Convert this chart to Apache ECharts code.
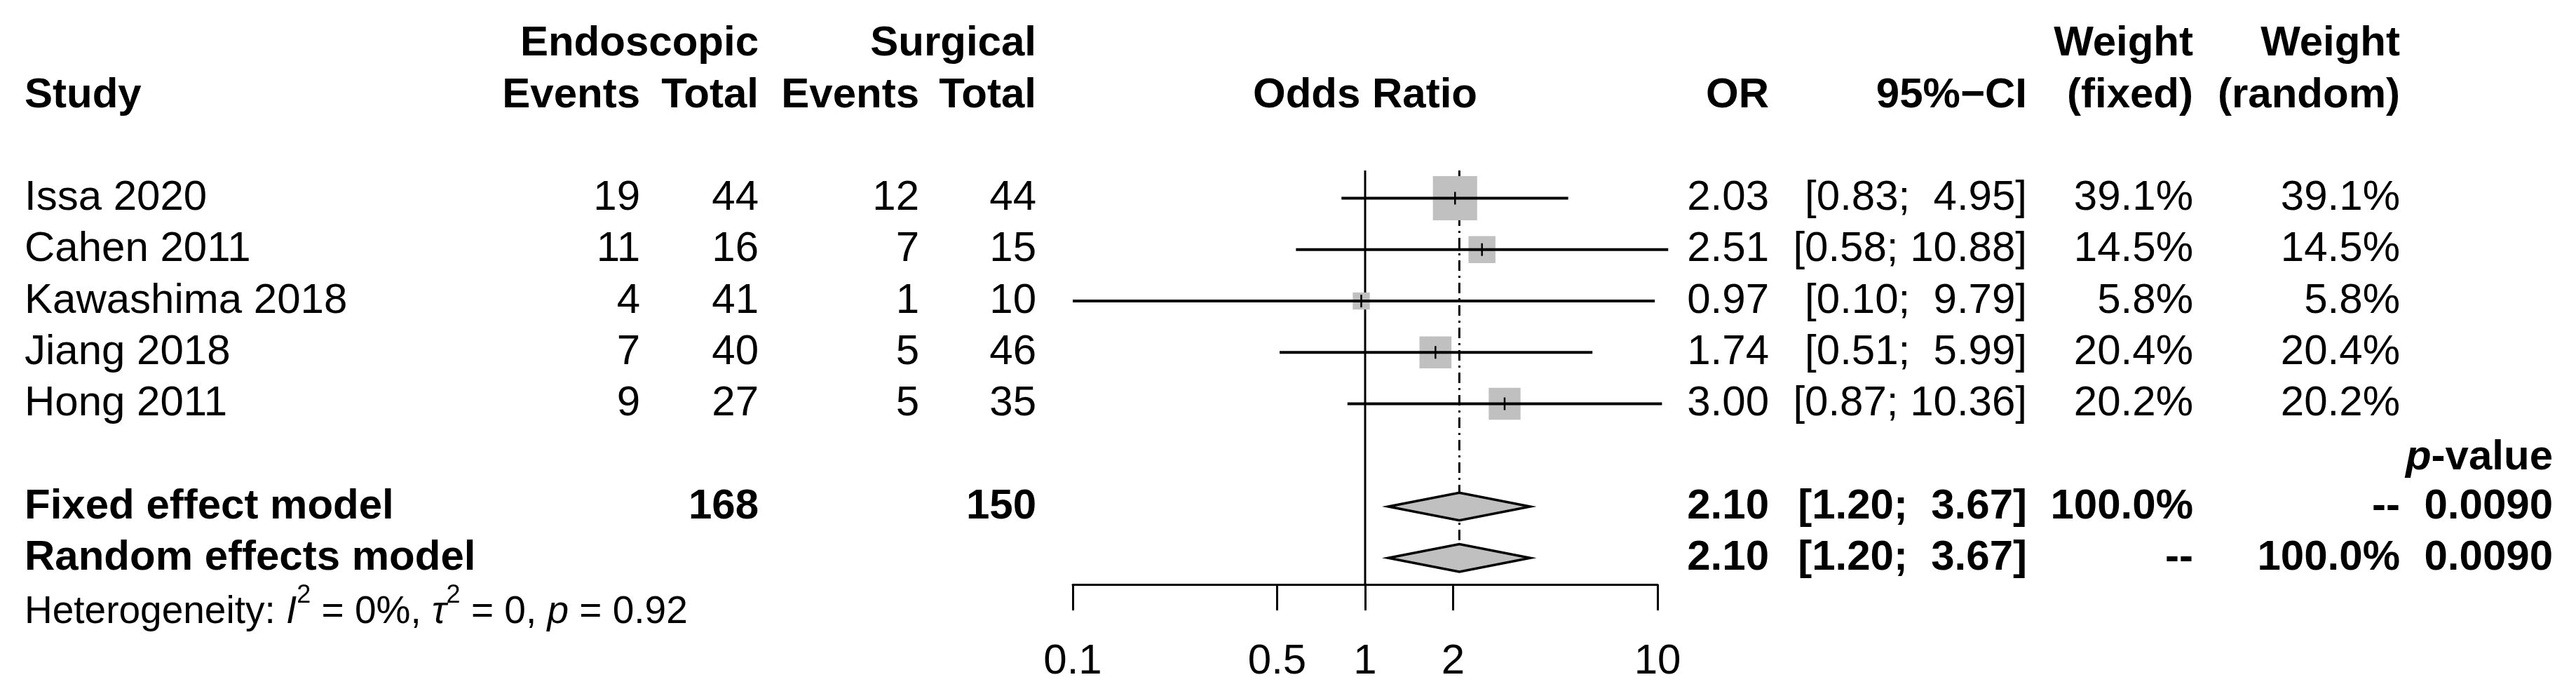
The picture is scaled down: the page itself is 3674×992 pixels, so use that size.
<!DOCTYPE html>
<html><head><meta charset="utf-8">
<script src="https://cdn.jsdelivr.net/npm/echarts@6/dist/echarts.min.js"></script>
<style>html,body{margin:0;padding:0;background:#fff}#c{width:3674px;height:992px}</style>
</head><body><div id="c"></div>
<script>
// ---------------- data ----------------
const studies = ['Issa 2020', 'Cahen 2011', 'Kawashima 2018', 'Jiang 2018', 'Hong 2011'];
const endoEvents = [19, 11, 4, 7, 9];
const endoTotal = [44, 16, 41, 40, 27];
const surgEvents = [12, 7, 1, 5, 5];
const surgTotal = [44, 15, 10, 46, 35];
const oddsRatio = [2.03, 2.51, 0.97, 1.74, 3.00];
const ciLower = [0.83, 0.58, 0.10, 0.51, 0.87];
const ciUpper = [4.95, 10.88, 9.79, 5.99, 10.36];
const weightFixed = [39.1, 14.5, 5.8, 20.4, 20.2];
const weightRandom = [39.1, 14.5, 5.8, 20.4, 20.2];
const modelNames = ['Fixed effect model', 'Random effects model'];
const modelOR = [2.10, 2.10];
const modelLower = [1.20, 1.20];
const modelUpper = [3.67, 3.67];
const modelPValue = ['0.0090', '0.0090'];
const pooledTotals = [168, 150];
const tickValues = [0.1, 0.5, 1, 2, 10];
const tickLabels = ['0.1', '0.5', '1', '2', '10'];
const hetText = {I2: '0%', tau2: '0', p: '0.92'};

// ---------------- layout ----------------
const W = 3674, H = 992;
const FONT = '"Liberation Sans", Arial, Helvetica, sans-serif';
const FS = 60, FS_HET = 55;
const ROW0 = 282.5, ROWH = 73.25;
const PLOT_LEFT = 1530, PLOT_RIGHT = 2364, AXIS_Y = 833;
const yMin = -ROW0 / ROWH, yMaxPlot = (AXIS_Y - ROW0) / ROWH, yMaxText = (H - ROW0) / ROWH;
const COL = {study: 35, ee: 913, et: 1082, se: 1311, st: 1478, or: 2523, ci: 2891, wf: 3128, wr: 3423, p: 3641};
const SQ_K = 10.1;
const REF_TOP = -0.54;

const fmtCI = (lo, hi) => '[' + lo.toFixed(2) + '; ' + hi.toFixed(2).padStart(5, ' ') + ']';
const pct = v => v.toFixed(1) + '%';

// ---------------- text table ----------------
const texts = [];
function T(x, row, text, align, style) { texts.push({x, row, text, align, style}); }
T(COL.et, -3, 'Endoscopic', 'right', 'b');
T(COL.st, -3, 'Surgical', 'right', 'b');
T(COL.wf, -3, 'Weight', 'right', 'b');
T(COL.wr, -3, 'Weight', 'right', 'b');
T(COL.study, -2, 'Study', 'left', 'b');
T(COL.ee, -2, 'Events', 'right', 'b');
T(COL.et, -2, 'Total', 'right', 'b');
T(COL.se, -2, 'Events', 'right', 'b');
T(COL.st, -2, 'Total', 'right', 'b');
T(COL.or, -2, 'OR', 'right', 'b');
T(COL.ci, -2, '95%\u2212CI', 'right', 'b');
T(COL.wf, -2, '(fixed)', 'right', 'b');
T(COL.wr, -2, '(random)', 'right', 'b');
studies.forEach((s, i) => {
  T(COL.study, i, s, 'left', 'n');
  T(COL.ee, i, String(endoEvents[i]), 'right', 'n');
  T(COL.et, i, String(endoTotal[i]), 'right', 'n');
  T(COL.se, i, String(surgEvents[i]), 'right', 'n');
  T(COL.st, i, String(surgTotal[i]), 'right', 'n');
  T(COL.or, i, oddsRatio[i].toFixed(2), 'right', 'n');
  T(COL.ci, i, fmtCI(ciLower[i], ciUpper[i]), 'right', 'n');
  T(COL.wf, i, pct(weightFixed[i]), 'right', 'n');
  T(COL.wr, i, pct(weightRandom[i]), 'right', 'n');
});
T(COL.p, 5.05, '{bi|p}{b|-value}', 'right', 'rich');
modelNames.forEach((m, k) => {
  const row = 6 + k;
  T(COL.study, row, m, 'left', 'b');
  if (k === 0) {
    T(COL.et, row, String(pooledTotals[0]), 'right', 'b');
    T(COL.st, row, String(pooledTotals[1]), 'right', 'b');
  }
  T(COL.or, row, modelOR[k].toFixed(2), 'right', 'b');
  T(COL.ci, row, fmtCI(modelLower[k], modelUpper[k]), 'right', 'b');
  T(COL.wf, row, k === 0 ? '100.0%' : '--', 'right', 'b');
  T(COL.wr, row, k === 1 ? '100.0%' : '--', 'right', 'b');
  T(COL.p, row, modelPValue[k], 'right', 'b');
});
T(COL.study, 8.06,
  '{n|Heterogeneity: }{i|I}{s|2}{n| = ' + hetText.I2 + ', }{i|\u03c4}{s|2}{n| = ' + hetText.tau2 + ', }{i|p}{n| = ' + hetText.p + '}',
  'left', 'rich');

const richStyles = {
  n: {fontSize: FS_HET, fontFamily: FONT, fill: '#000', lineHeight: 84},
  i: {fontSize: FS_HET, fontFamily: FONT, fontStyle: 'italic', fill: '#000', lineHeight: 84},
  s: {fontSize: 36, fontFamily: FONT, fill: '#000', lineHeight: 34, verticalAlign: 'top'},
  b: {fontSize: FS, fontFamily: FONT, fontWeight: 'bold', fill: '#000'},
  bi: {fontSize: FS, fontFamily: FONT, fontWeight: 'bold', fontStyle: 'italic', fill: '#000'}
};

// ---------------- chart ----------------
const chart = echarts.init(document.getElementById('c'), null, {renderer: 'canvas'});
const L = v => Math.log10(v);
const tickLogs = tickValues.map(L);

const studyData = studies.map((s, i) => [L(oddsRatio[i]), i, L(ciLower[i]), L(ciUpper[i]), weightFixed[i]]);
const modelData = modelNames.map((m, k) => [L(modelOR[k]), 6 + k, L(modelLower[k]), L(modelUpper[k])]);

const option = {
  animation: false,
  backgroundColor: '#fff',
  grid: [
    {left: PLOT_LEFT, top: 0, width: PLOT_RIGHT - PLOT_LEFT, height: AXIS_Y},
    {left: 0, top: 0, width: W, height: H}
  ],
  xAxis: [
    {type: 'value', gridIndex: 0, position: 'bottom', min: L(tickValues[0]), max: L(tickValues[tickValues.length - 1]),
     axisLine: {show: true, onZero: false, lineStyle: {color: '#000', width: 3}},
     axisTick: {show: true, inside: false, length: 37, customValues: tickLogs, lineStyle: {color: '#000', width: 3}},
     axisLabel: {show: true, customValues: tickLogs, margin: 80, color: '#000', fontSize: FS, fontFamily: FONT,
       formatter: v => { const k = tickLogs.findIndex(t => Math.abs(t - v) < 1e-9); return k >= 0 ? tickLabels[k] : ''; }},
     splitLine: {show: false}},
    {type: 'value', gridIndex: 1, min: 0, max: W, show: false}
  ],
  yAxis: [
    {type: 'value', gridIndex: 0, min: yMin, max: yMaxPlot, inverse: true, show: false},
    {type: 'value', gridIndex: 1, min: yMin, max: yMaxText, inverse: true, show: false}
  ],
  series: [
    { // reference lines + column title
      type: 'custom', xAxisIndex: 0, yAxisIndex: 0, silent: true, z: 1,
      data: [[L(1), REF_TOP]],
      renderItem: (params, api) => {
        const a = api.coord([L(1), REF_TOP]);
        const b = api.coord([L(1), yMaxPlot]);
        const c = api.coord([L(modelOR[0]), REF_TOP]);
        const d = api.coord([L(modelOR[0]), 7]);
        const t = api.coord([L(1), -2]);
        return {type: 'group', children: [
          {type: 'line', shape: {x1: a[0], y1: a[1], x2: b[0], y2: b[1]}, style: {stroke: '#000', lineWidth: 3}},
          {type: 'line', shape: {x1: c[0], y1: c[1], x2: d[0], y2: d[1]}, style: {stroke: '#000', lineWidth: 3, lineDash: [15, 7, 3, 7]}},
          {type: 'text', x: t[0], y: t[1], style: {text: 'Odds Ratio', align: 'center', verticalAlign: 'middle', fill: '#000', fontSize: FS, fontWeight: 'bold', fontFamily: FONT}}
        ]};
      }
    },
    { // study squares and CIs
      type: 'custom', xAxisIndex: 0, yAxisIndex: 0, silent: true, z: 2, clip: false,
      data: studyData,
      renderItem: (params, api) => {
        const c = api.coord([api.value(0), api.value(1)]);
        const lo = api.coord([api.value(2), api.value(1)]);
        const hi = api.coord([api.value(3), api.value(1)]);
        const side = SQ_K * Math.sqrt(api.value(4));
        return {type: 'group', children: [
          {type: 'rect', shape: {x: c[0] - side / 2, y: c[1] - side / 2, width: side, height: side}, style: {fill: '#C0C0C0'}},
          {type: 'line', shape: {x1: lo[0], y1: lo[1], x2: hi[0], y2: hi[1]}, style: {stroke: '#000', lineWidth: 4}},
          {type: 'line', shape: {x1: c[0], y1: c[1] - 9, x2: c[0], y2: c[1] + 9}, style: {stroke: '#000', lineWidth: 2.5}}
        ]};
      }
    },
    { // pooled diamonds
      type: 'custom', xAxisIndex: 0, yAxisIndex: 0, silent: true, z: 3, clip: false,
      data: modelData,
      renderItem: (params, api) => {
        const r = api.value(1), h = 0.27;
        const p1 = api.coord([api.value(2), r]);
        const p2 = api.coord([api.value(0), r - h]);
        const p3 = api.coord([api.value(3), r]);
        const p4 = api.coord([api.value(0), r + h]);
        return {type: 'polygon', shape: {points: [p1, p2, p3, p4]}, style: {fill: '#C0C0C0', stroke: '#000', lineWidth: 3.5}};
      }
    },
    { // text table
      type: 'custom', xAxisIndex: 1, yAxisIndex: 1, silent: true, z: 4, clip: false,
      data: texts.map(t => [t.x, t.row]),
      renderItem: (params, api) => {
        const t = texts[params.dataIndex];
        const p = api.coord([api.value(0), api.value(1)]);
        const style = {text: t.text, align: t.align, verticalAlign: 'middle', fill: '#000', fontFamily: FONT, fontSize: FS};
        if (t.style === 'b') style.fontWeight = 'bold';
        if (t.style === 'rich') style.rich = richStyles;
        return {type: 'text', x: p[0], y: p[1], style};
      }
    }
  ]
};
chart.setOption(option);
</script>
</body></html>
